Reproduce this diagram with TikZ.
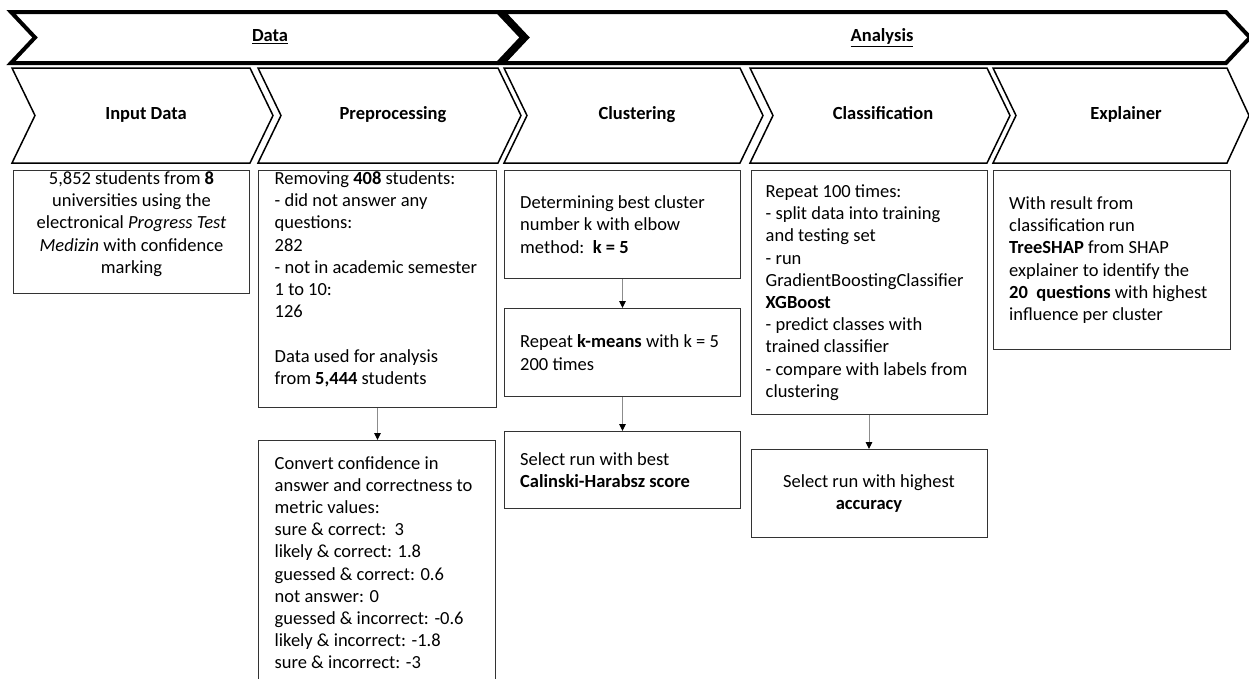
\documentclass[tikz,border=0pt]{standalone}
\usepackage{fontspec}
\setmainfont{Carlito}
\usetikzlibrary{arrows.meta}

\tikzset{
  band/.style={line width=4pt},
  phase/.style={line width=1.5pt},
  box/.style={draw=black!80, line width=1pt, inner sep=0pt, anchor=north west},
  txt/.style={font=\fontsize{18.5}{22.2}\selectfont, inner sep=0pt, align=left},
  head/.style={font=\fontsize{18.5}{22.2}\selectfont\bfseries, inner sep=0pt, text height=12.5pt, text depth=4pt},
  flow/.style={draw=black!45, line width=1pt, -{Triangle[black, length=7pt, width=6.5pt]}}
}

\begin{document}
\begin{tikzpicture}[x=1pt, y=-1pt]
\useasboundingbox (0,0) rectangle (1249,678);
% top bands
\draw [band] (11,12)-- (498,12)-- (522,37.5)-- (498,63)-- (11,63)-- (35,37.5)-- cycle;
\draw [band] (503,12)-- (1226,12)-- (1250,37.5)-- (1226,63)-- (503,63)-- (527,37.5)-- cycle;
\node [head] (datalbl) at (270,37.5) {\underline{Data}};
\node [head] (analbl) at (882,37.5) {\underline{Analysis}};
% phases
\draw [phase] (12,68)-- (250,68)-- (273,115.5)-- (250,163)-- (12,163)-- (35,115.5)-- cycle;
\draw [phase] (258,68)-- (498,68)-- (521,115.5)-- (498,163)-- (258,163)-- (281,115.5)-- cycle;
\draw [phase] (504,68)-- (740,68)-- (763,115.5)-- (740,163)-- (504,163)-- (527,115.5)-- cycle;
\draw [phase] (750,68)-- (987,68)-- (1010,115.5)-- (987,163)-- (750,163)-- (773,115.5)-- cycle;
\draw [phase] (993,68)-- (1227,68)-- (1249,115.5)-- (1227,163)-- (993,163)-- (1016,115.5)-- cycle;
\node [head] (inplbl) at (146,115.5) {Input Data};
\node [head] (prelbl) at (393,115.5) {Preprocessing};
\node [head] (clulbl) at (637,115.5) {Clustering};
\node [head] (clslbl) at (883,115.5) {Classification};
\node [head] (explbl) at (1126,115.5) {Explainer};
% boxes
\node [box, minimum width=236pt, minimum height=123pt] (inp) at (13,170) {};
\node [box, minimum width=238pt, minimum height=237pt] (pre) at (258,170) {};
\node [box, minimum width=237pt, minimum height=260pt] (conv) at (258,440) {};
\node [box, minimum width=236pt, minimum height=108pt] (clu1) at (504,170) {};
\node [box, minimum width=236pt, minimum height=88pt] (clu2) at (504,308) {};
\node [box, minimum width=236pt, minimum height=77pt] (clu3) at (504,431) {};
\node [box, minimum width=236pt, minimum height=244pt] (cls) at (750.5,170) {};
\node [box, minimum width=236pt, minimum height=88pt] (sel) at (750.5,449) {};
\node [box, minimum width=237pt, minimum height=179pt] (exp) at (993,170) {};
% texts
\node [txt, align=center, anchor=north] (inptxt) at ([yshift=-1.5pt]inp.north) {5,852 students from \textbf{8}\\ universities using the\\ electronical \textit{Progress Test}\\ \textit{Medizin} with confidence\\ marking};
\node [txt, anchor=north west] (pretxt) at ([xshift=16.5pt,yshift=-1.5pt]pre.north west) {Removing \textbf{408} students:\\ - did not answer any\\ questions:\\ 282\\ - not in academic semester\\ 1 to 10:\\ 126\\[22.2pt] Data used for analysis\\ from \textbf{5,444} students};
\node [txt, anchor=north west] (convtxt) at ([xshift=16.5pt,yshift=-16pt]conv.north west) {Convert confidence in\\ answer and correctness to\\ metric values:\\ sure \& correct:~~3\\ likely \& correct: 1.8\\ guessed \& correct: 0.6\\ not answer: 0\\ guessed \& incorrect: -0.6\\ likely \& incorrect: -1.8\\ sure \& incorrect: -3};
\node [txt, anchor=west] (clu1txt) at ([xshift=16pt]clu1.west) {Determining best cluster\\ number k with elbow\\ method:~~\textbf{k = 5}};
\node [txt, anchor=west] (clu2txt) at ([xshift=16pt]clu2.west) {Repeat \textbf{k-means} with k = 5\\ 200 times};
\node [txt, anchor=west] (clu3txt) at ([xshift=16pt]clu3.west) {Select run with best\\ \textbf{Calinski-Harabsz score}};
\node [txt, anchor=west] (clstxt) at ([xshift=15pt]cls.west) {Repeat 100 times:\\ - split data into training\\ and testing set\\ - run\\ GradientBoostingClassifier\\ \textbf{XGBoost}\\ - predict classes with\\ trained classifier\\ - compare with labels from\\ clustering};
\node [txt, align=center] (seltxt) at (sel.center) {Select run with highest\\ \textbf{accuracy}};
\node [txt, anchor=west] (exptxt) at ([xshift=16pt]exp.west) {With result from\\ classification run\\ \textbf{TreeSHAP} from SHAP\\ explainer to identify the\\ \textbf{20~~questions} with highest\\ influence per cluster};
% arrows
\draw [flow] (pre.south)-- (pre.south |- conv.north);
\draw [flow] (clu1.south)-- (clu2.north);
\draw [flow] (clu2.south)-- (clu3.north);
\draw [flow] (cls.south)-- (sel.north);
\end{tikzpicture}
\end{document}
